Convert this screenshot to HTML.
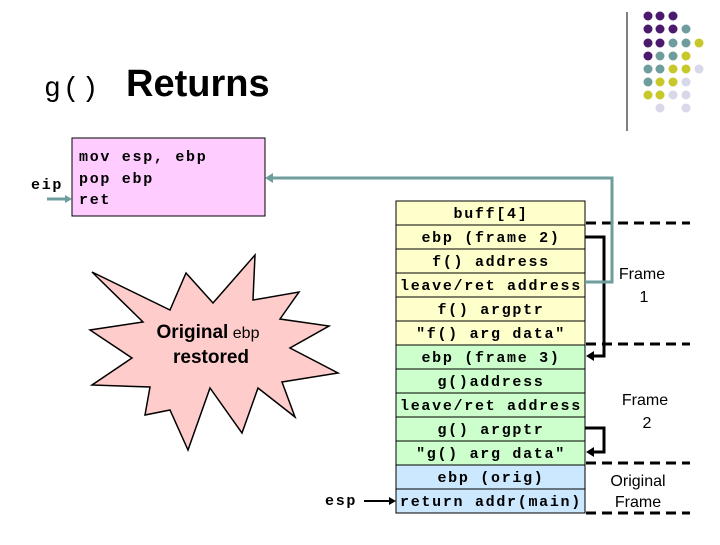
<!DOCTYPE html>
<html><head><style>
body{margin:0;width:720px;height:540px;background:#fff;overflow:hidden}
</style></head><body>
<svg width="720" height="540" xmlns="http://www.w3.org/2000/svg">
<line x1="627" y1="12" x2="627" y2="131" stroke="#000" stroke-width="1"/>
<g>
<circle cx="648" cy="16" r="4.5" fill="#4b1a6e"/><circle cx="660" cy="16" r="4.5" fill="#4b1a6e"/><circle cx="673" cy="16" r="4.5" fill="#4b1a6e"/>
<circle cx="648" cy="29" r="4.5" fill="#4b1a6e"/><circle cx="660" cy="29" r="4.5" fill="#4b1a6e"/><circle cx="673" cy="29" r="4.5" fill="#4b1a6e"/><circle cx="686" cy="29" r="4.5" fill="#6f9c9c"/>
<circle cx="648" cy="43" r="4.5" fill="#4b1a6e"/><circle cx="660" cy="43" r="4.5" fill="#4b1a6e"/><circle cx="673" cy="43" r="4.5" fill="#6f9c9c"/><circle cx="686" cy="43" r="4.5" fill="#6f9c9c"/><circle cx="699" cy="43" r="4.5" fill="#c8c82a"/>
<circle cx="648" cy="56" r="4.5" fill="#4b1a6e"/><circle cx="660" cy="56" r="4.5" fill="#6f9c9c"/><circle cx="673" cy="56" r="4.5" fill="#6f9c9c"/><circle cx="686" cy="56" r="4.5" fill="#c8c82a"/>
<circle cx="648" cy="69" r="4.5" fill="#6f9c9c"/><circle cx="660" cy="69" r="4.5" fill="#6f9c9c"/><circle cx="673" cy="69" r="4.5" fill="#c8c82a"/><circle cx="686" cy="69" r="4.5" fill="#c8c82a"/><circle cx="699" cy="69" r="4.5" fill="#d8d8ea"/>
<circle cx="648" cy="82" r="4.5" fill="#6f9c9c"/><circle cx="660" cy="82" r="4.5" fill="#c8c82a"/><circle cx="673" cy="82" r="4.5" fill="#c8c82a"/><circle cx="686" cy="82" r="4.5" fill="#d8d8ea"/>
<circle cx="648" cy="95" r="4.5" fill="#c8c82a"/><circle cx="660" cy="95" r="4.5" fill="#c8c82a"/><circle cx="673" cy="95" r="4.5" fill="#d8d8ea"/><circle cx="686" cy="95" r="4.5" fill="#d8d8ea"/>
<circle cx="660" cy="108" r="4.5" fill="#d8d8ea"/><circle cx="686" cy="108" r="4.5" fill="#d8d8ea"/>
</g>
<text x="44" y="96" font-family="Liberation Mono, monospace" font-size="28" letter-spacing="2" fill="#000">g()</text>
<text x="126" y="96" font-family="Liberation Sans, sans-serif" font-size="38" font-weight="bold" fill="#000">Returns</text>

<rect x="72" y="138" width="193" height="78" fill="#ffccff" stroke="#000" stroke-width="1"/>
<g font-family="Liberation Mono, monospace" font-size="15" font-weight="bold" fill="#000" letter-spacing="1.7">
<text x="79" y="161">mov esp, ebp</text>
<text x="79" y="183">pop ebp</text>
<text x="79" y="204">ret</text>
<text x="31" y="189">eip</text>
<text x="325" y="505">esp</text>
</g>
<line x1="47" y1="199" x2="66" y2="199" stroke="#6f9c9c" stroke-width="3"/>
<polygon points="72,199 65,195 65,203" fill="#6f9c9c"/>
<line x1="364" y1="501" x2="390" y2="501" stroke="#000" stroke-width="2"/>
<polygon points="396,501 389,497 389,505" fill="#000"/>

<polygon fill="#ffcccc" stroke="#000" stroke-width="1.5" points="92,272 170,310 186,273 213,303 255,255 253,300 299,292 280,319 329,326 290,348 338,373 282,382 295,417 258,388 242,433 210,388 188,450 170,410 145,415 150,387 92,385 132,358 90,330 143,322"/>
<text x="208" y="338" text-anchor="middle" font-family="Liberation Sans, sans-serif" font-size="19" font-weight="bold"><tspan>Original</tspan><tspan font-size="16" font-weight="normal"> ebp</tspan></text>
<text x="211" y="363" text-anchor="middle" font-family="Liberation Sans, sans-serif" font-size="19" font-weight="bold">restored</text>

<g stroke="#000" stroke-width="1">
<rect x="396" y="201" width="189" height="144" fill="#ffffcc"/>
<rect x="396" y="345" width="189" height="120" fill="#ccffcc"/>
<rect x="396" y="465" width="189" height="48" fill="#cce8ff"/>
<line x1="396" y1="225" x2="585" y2="225"/><line x1="396" y1="249" x2="585" y2="249"/>
<line x1="396" y1="273" x2="585" y2="273"/><line x1="396" y1="297" x2="585" y2="297"/>
<line x1="396" y1="321" x2="585" y2="321"/><line x1="396" y1="369" x2="585" y2="369"/>
<line x1="396" y1="393" x2="585" y2="393"/><line x1="396" y1="417" x2="585" y2="417"/>
<line x1="396" y1="441" x2="585" y2="441"/><line x1="396" y1="489" x2="585" y2="489"/>
</g>
<g font-family="Liberation Mono, monospace" font-size="15" font-weight="bold" fill="#000" text-anchor="middle" letter-spacing="1.7">
<text x="491" y="218">buff[4]</text>
<text x="491" y="242">ebp (frame 2)</text>
<text x="491" y="266">f() address</text>
<text x="491" y="290">leave/ret address</text>
<text x="491" y="314">f() argptr</text>
<text x="491" y="338">"f() arg data"</text>
<text x="491" y="362">ebp (frame 3)</text>
<text x="491" y="386">g()address</text>
<text x="491" y="410">leave/ret address</text>
<text x="491" y="434">g() argptr</text>
<text x="491" y="458">"g() arg data"</text>
<text x="491" y="482">ebp (orig)</text>
<text x="491" y="506">return addr(main)</text>
</g>
<g stroke="#000" stroke-width="3" stroke-dasharray="10,6" fill="none">
<line x1="586" y1="223" x2="690" y2="223"/>
<line x1="586" y1="344" x2="690" y2="344"/>
<line x1="586" y1="463" x2="690" y2="463"/>
<line x1="586" y1="513" x2="690" y2="513"/>
</g>
<polyline points="585,237 604,237 604,356 592,356" fill="none" stroke="#000" stroke-width="3"/>
<polygon points="586,356 594,351 594,361" fill="#000"/>
<polyline points="585,428 604,428 604,452 592,452" fill="none" stroke="#000" stroke-width="3"/>
<polygon points="586,452 594,447 594,457" fill="#000"/>
<polyline points="585,282 612,282 612,178 272,178" fill="none" stroke="#6f9c9c" stroke-width="3"/>
<polygon points="265,178 273,173 273,183" fill="#6f9c9c"/>
<g font-family="Liberation Sans, sans-serif" font-size="16" fill="#000" text-anchor="middle">
<text x="642" y="279">Frame</text><text x="644" y="302">1</text>
<text x="645" y="405">Frame</text><text x="647" y="428">2</text>
<text x="638" y="486">Original</text><text x="638" y="507">Frame</text>
</g>
</svg>
</body></html>
